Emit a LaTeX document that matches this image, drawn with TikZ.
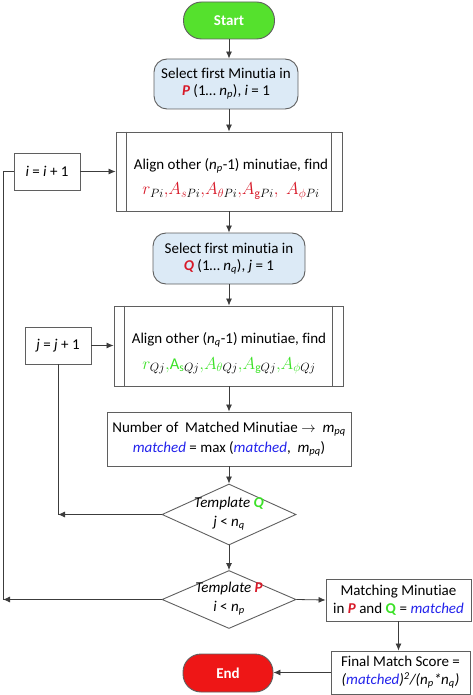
\documentclass[tikz,border=0pt]{standalone}
\usepackage{fontspec}
\setmainfont[RawFeature={-liga}]{Carlito}
\usetikzlibrary{shapes.geometric,arrows.meta,calc}
\definecolor{cred}{RGB}{215,25,40}
\definecolor{cgreen}{RGB}{60,225,40}
\definecolor{cblue}{RGB}{35,35,235}
\definecolor{startg}{RGB}{85,225,45}
\definecolor{endr}{RGB}{238,22,22}
\definecolor{lblue}{RGB}{220,234,246}
\definecolor{bord}{RGB}{95,95,95}
\definecolor{lin}{RGB}{60,60,60}
\newcommand{\Pb}{{\color{cred}\textbf{\textit{P}}}}
\newcommand{\Qb}{{\color{cred}\textbf{\textit{Q}}}}
\newcommand{\Qg}{{\color{cgreen}\textbf{\textit{Q}}}}
\newcommand{\mt}{{\color{cblue}\textit{matched}}}
\newcommand{\np}{\textit{n}\textsubscript{\textit{p}}}
\newcommand{\nq}{\textit{n}\textsubscript{\textit{q}}}
\newcommand{\mpq}{\textit{m}\textsubscript{\textit{pq}}}
\newcommand{\mymathline}[1]{{\fontsize{16.5}{20}\selectfont$#1$}}
\tikzset{
  base/.style={font=\fontsize{15}{17}\selectfont, align=center, inner sep=0pt},
  term/.style={base, draw=bord, line width=0.9pt, rounded corners=18pt, text=white, font=\fontsize{15}{17}\selectfont\bfseries},
  selbox/.style={base, draw=bord, line width=0.9pt, fill=lblue, rounded corners=13pt},
  procbox/.style={base, draw=bord, line width=0.9pt},
  decis/.style={diamond, draw=bord, line width=0.9pt, inner sep=0pt},
  txt/.style={base},
  arr/.style={draw=lin, line width=0.8pt, -{Latex[length=7pt,width=6pt]}},
  ln/.style={draw=lin, line width=0.8pt}
}
\begin{document}
\begin{tikzpicture}[x=1pt,y=-1pt]
\useasboundingbox (0,0) rectangle (473,695);
% nodes
\node[term, fill=startg, minimum width=91pt, minimum height=37pt] (start) at (229,20.5) {Start};
\node[selbox, minimum width=144pt, minimum height=50pt] (selP) at (226,84) {Select first Minutia in\\ \Pb{} (1… \np), \textit{i} = 1};
\node[procbox, minimum width=226pt, minimum height=79pt] (alP) at (229,171.5) {};
\node[txt, font=\fontsize{15}{25}\selectfont] (alPt) at (231,179) {Align other (\np-1) minutiae, find\\
 \mymathline{\color{cred} r_{\color{black}Pi}{,}A_{s{\color{black}Pi}}{,}A_{\theta{\color{black}Pi}}{,}A_{\mathrm{g}{\color{black}Pi}}{,}\;\,A_{\phi{\color{black}Pi}}}};
\node[procbox, minimum width=66pt, minimum height=37pt] (incI) at (47,171.5) {\textit{i} = \textit{i} + 1};
\node[selbox, minimum width=152pt, minimum height=51pt] (selQ) at (229,258.5) {Select first minutia in\\ \Qb{} (1… \nq), \textit{j} = 1};
\node[procbox, minimum width=229pt, minimum height=80pt] (alQ) at (228.5,346) {};
\node[txt, font=\fontsize{15}{26}\selectfont] (alQt) at (229,353) {Align other (\nq-1) minutiae, find\\
 \mymathline{\color{cgreen} r_{\color{black}Qj}{,}\mathrm{A}_{\mathrm{s}{\color{black}Qj}}{,}A_{\theta{\color{black}Qj}}{,}A_{\mathrm{g}{\color{black}Qj}}{,}A_{\phi{\color{black}Qj}}}};
\node[procbox, minimum width=66pt, minimum height=37pt] (incJ) at (58,345.5) {\textit{j} = \textit{j} + 1};
\node[procbox, minimum width=244pt, minimum height=54pt, font=\fontsize{15}{20}\selectfont] (num) at (229,439) {Number of~ Matched Minutiae $\rightarrow$~ \mpq\\ \mt{} = max (\mt,~ \mpq)};
\node[decis, minimum width=134pt, minimum height=61pt] (dQ) at (229,514.5) {};
\node[txt, font=\fontsize{15}{19}\selectfont] (dQt) at (229,514) {\textit{Template} \Qg\\ \textit{j} < \nq};
\node[decis, minimum width=134pt, minimum height=58pt] (dP) at (229,599.5) {};
\node[txt, font=\fontsize{15}{19}\selectfont] (dPt) at (229,599) {\textit{Template} \Pb\\ \textit{i} < \np};
\node[procbox, minimum width=145pt, minimum height=42pt, font=\fontsize{15}{18}\selectfont] (match) at (398.5,600) {Matching Minutiae\\ in \Pb{} and {\color{cgreen}\textbf{Q}} = \mt};
\node[procbox, minimum width=139pt, minimum height=43pt, font=\fontsize{15}{18}\selectfont] (final) at (400.5,672.5) {Final Match Score =\\ \textit{(}\mt\textit{)\textsuperscript{2}/(\np*\nq)}};
\node[term, fill=endr, minimum width=90pt, minimum height=38pt] (end) at (228,673) {End};
% inner lines of predefined process boxes
\draw[draw=bord, line width=0.9pt] ($(alP.north west)+(11,0)$) -- ($(alP.south west)+(11,0)$);
\draw[draw=bord, line width=0.9pt] ($(alP.north east)+(-11,0)$) -- ($(alP.south east)+(-11,0)$);
\draw[draw=bord, line width=0.9pt] ($(alQ.north west)+(11,0)$) -- ($(alQ.south west)+(11,0)$);
\draw[draw=bord, line width=0.9pt] ($(alQ.north east)+(-11,0)$) -- ($(alQ.south east)+(-11,0)$);
% connectors
\draw[arr] (start.south) -- (start.south |- selP.north);
\draw[arr] (alP.north |- selP.south) -- (alP.north);
\draw[arr] (alP.south) -- (alP.south |- selQ.north);
\draw[arr] (selQ.south) -- (selQ.south |- alQ.north);
\draw[arr] (selQ.south |- alQ.south) -- (selQ.south |- num.north);
\draw[arr] (num.south) -- (dQ.north);
\draw[arr] (dQ.south) -- (dP.north);
\draw[arr] (incI.east) -- (incI.east -| alP.west);
\draw[arr] (incJ.east) -- (incJ.east -| alQ.west);
\coordinate (cj) at (incJ.south |- dQ.west);
\draw[arr] (dQ.west) -- (cj);
\draw[ln] (cj) -- (incJ.south);
\coordinate (ci) at (3,599.5);
\draw[arr] (dP.west) -- (ci);
\draw[ln] (ci) |- (incI.west);
\draw[arr] (dP.east) -- (match.west);
\draw[arr] (match.south) -- (match.south |- final.north);
\draw[arr] (final.west) -- (final.west -| end.east);
\end{tikzpicture}
\end{document}
